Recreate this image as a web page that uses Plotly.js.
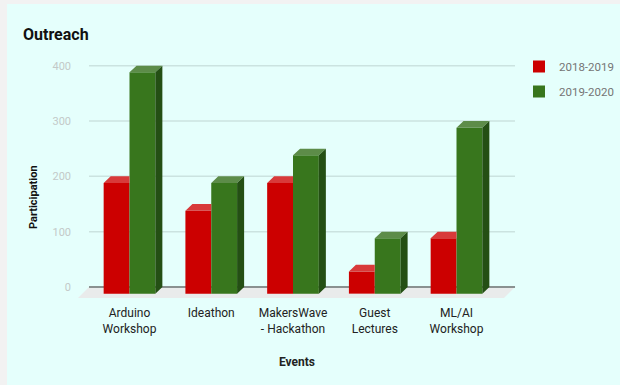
<!DOCTYPE html>
<html>
<head>
<meta charset="utf-8">
<script src="https://cdn.plot.ly/plotly-3.0.1.min.js"></script>
<style>
  html, body { margin: 0; padding: 0; background: #f2f2f2; }
  #panel { position: absolute; left: 7px; top: 4px; width: 613px; height: 381px; background: #e5fffc; }
  #chart { position: absolute; left: 0; top: 0; width: 620px; height: 385px; }
</style>
</head>
<body>
<div id="panel"></div>
<div id="chart"></div>
<script>
// Event categories and participation per academic year
const categories = ['Arduino<br>Workshop', 'Ideathon', 'MakersWave<br>- Hackathon', 'Guest<br>Lectures', 'ML/AI<br>Workshop'];
const seriesNames = ['2018-2019', '2019-2020'];
const participation2018 = [200, 150, 200, 40, 100];
const participation2019 = [400, 200, 250, 100, 300];
const yTicks = [0, 100, 200, 300, 400];

// 3D look: depth of each bar, measured in axis units
const depthX = 0.086;
const depthY = 12;
const barWidth = 0.316;
// wall / floor extent along x (axis units)
const wallLeft = -0.495, wallRight = 4.716;
const floorDX = 0.135, floorDY = 20;

const idx = categories.map((_, i) => i);

const colors = {
  red:   { front: '#cc0000', top: '#d83a3a', side: '#8f0000' },
  green: { front: '#38761d', top: '#5d8c49', side: '#244f14' }
};

function frontBar(values, name, offset, c) {
  return {
    type: 'bar', name: name, x: idx, y: values,
    base: values.map(() => -depthY),
    offset: offset, width: barWidth,
    marker: { color: c.front, line: { width: 0 } },
    hovertemplate: name + ': %{y}<extra></extra>'
  };
}

function polyTrace(xs, ys, color) {
  return {
    type: 'scatter', mode: 'lines', x: xs, y: ys,
    fill: 'toself', fillcolor: color,
    line: { width: 0, color: color },
    hoverinfo: 'skip', showlegend: false
  };
}

// top face of a bar; when clipped, the part hidden behind the neighbour bar is dropped
function topFaces(values, offset, clipped) {
  const xs = [], ys = [];
  values.forEach((v, i) => {
    const x0 = i + offset, x1 = x0 + barWidth;
    if (clipped) {
      xs.push(x0, x1, x1, x0 + depthX, x0, null);
      ys.push(v - depthY, v - depthY, v, v, v - depthY, null);
    } else {
      xs.push(x0, x1, x1 + depthX, x0 + depthX, x0, null);
      ys.push(v - depthY, v - depthY, v, v, v - depthY, null);
    }
  });
  return [xs, ys];
}

function sideFaces(values, offset) {
  const xs = [], ys = [];
  values.forEach((v, i) => {
    const x1 = i + offset + barWidth;
    xs.push(x1, x1 + depthX, x1 + depthX, x1, x1, null);
    ys.push(v - depthY, v, 0, -depthY, v - depthY, null);
  });
  return [xs, ys];
}

const redOffset = -barWidth, greenOffset = 0;
const redTop = topFaces(participation2018, redOffset, true);
const greenTop = topFaces(participation2019, greenOffset, false);
const greenSide = sideFaces(participation2019, greenOffset);

const data = [
  frontBar(participation2018, seriesNames[0], redOffset, colors.red),
  frontBar(participation2019, seriesNames[1], greenOffset, colors.green),
  polyTrace(redTop[0], redTop[1], colors.red.top),
  polyTrace(greenTop[0], greenTop[1], colors.green.top),
  polyTrace(greenSide[0], greenSide[1], colors.green.side)
];
data[0].legendgroup = 'a';
data[1].legendgroup = 'b';

// floor and wall grid lines
const shapes = [{
  type: 'path', xref: 'x', yref: 'y', layer: 'below',
  path: 'M' + wallLeft + ',0 L' + wallRight + ',0 L' + (wallRight - floorDX) + ',' + (-floorDY) +
        ' L' + (wallLeft - floorDX) + ',' + (-floorDY) + ' Z',
  fillcolor: '#e9ebeb', line: { width: 0 }
}];
yTicks.forEach(t => {
  shapes.push({
    type: 'line', xref: 'x', yref: 'y', layer: 'below',
    x0: wallLeft, x1: wallRight, y0: t, y1: t,
    line: { color: t === 0 ? '#8a9190' : '#cbe3e0', width: t === 0 ? 2 : 1.5 }
  });
});

const font = 'Roboto, Arial, sans-serif';

const layout = {
  width: 620, height: 385,
  margin: { l: 76, r: 100, t: 60, b: 85, autoexpand: false },
  paper_bgcolor: 'rgba(0,0,0,0)',
  plot_bgcolor: 'rgba(0,0,0,0)',
  font: { family: font, color: '#222' },
  barmode: 'overlay',
  showlegend: true,
  title: {
    text: '<b>Outreach</b>', font: { family: font, size: 16, color: '#111' },
    x: 23 / 620, xref: 'container', xanchor: 'left',
    y: 1 - 34.5 / 385, yref: 'container', yanchor: 'middle'
  },
  xaxis: {
    range: [-0.6544, 4.7768], fixedrange: true,
    tickmode: 'array', tickvals: idx, ticktext: categories,
    showgrid: false, zeroline: false, showline: false, ticks: '',
    tickfont: { family: font, size: 12, color: '#222' },
    ticklabelstandoff: 4
  },
  yaxis: {
    range: [-23.5, 410.3], fixedrange: true,
    tickmode: 'array', tickvals: yTicks,
    showgrid: false, zeroline: false, showline: false, ticks: '',
    tickfont: { family: font, size: 11, color: '#c3c9c8' },
    ticklabelstandoff: 4
  },
  legend: {
    x: (519 - 76) / 444, xanchor: 'left',
    y: (300 - 52) / 240, yanchor: 'top',
    bgcolor: 'rgba(0,0,0,0)',
    font: { family: font, size: 11.5, color: '#757575' },
    traceorder: 'grouped', tracegroupgap: 6
  },
  shapes: shapes,
  annotations: [
    { text: '<b>Events</b>', xref: 'paper', yref: 'paper', x: (297 - 76) / 444, y: (300 - 362) / 240,
      xanchor: 'center', yanchor: 'middle', showarrow: false, font: { family: font, size: 12, color: '#222' } },
    { text: '<b>Participation</b>', xref: 'paper', yref: 'paper', x: (33 - 76) / 444, y: (300 - 197) / 240,
      xanchor: 'center', yanchor: 'middle', textangle: -90, showarrow: false, font: { family: font, size: 11, color: '#111' } }
  ]
};

Plotly.newPlot('chart', data, layout, { displayModeBar: false, staticPlot: true });
</script>
</body>
</html>
